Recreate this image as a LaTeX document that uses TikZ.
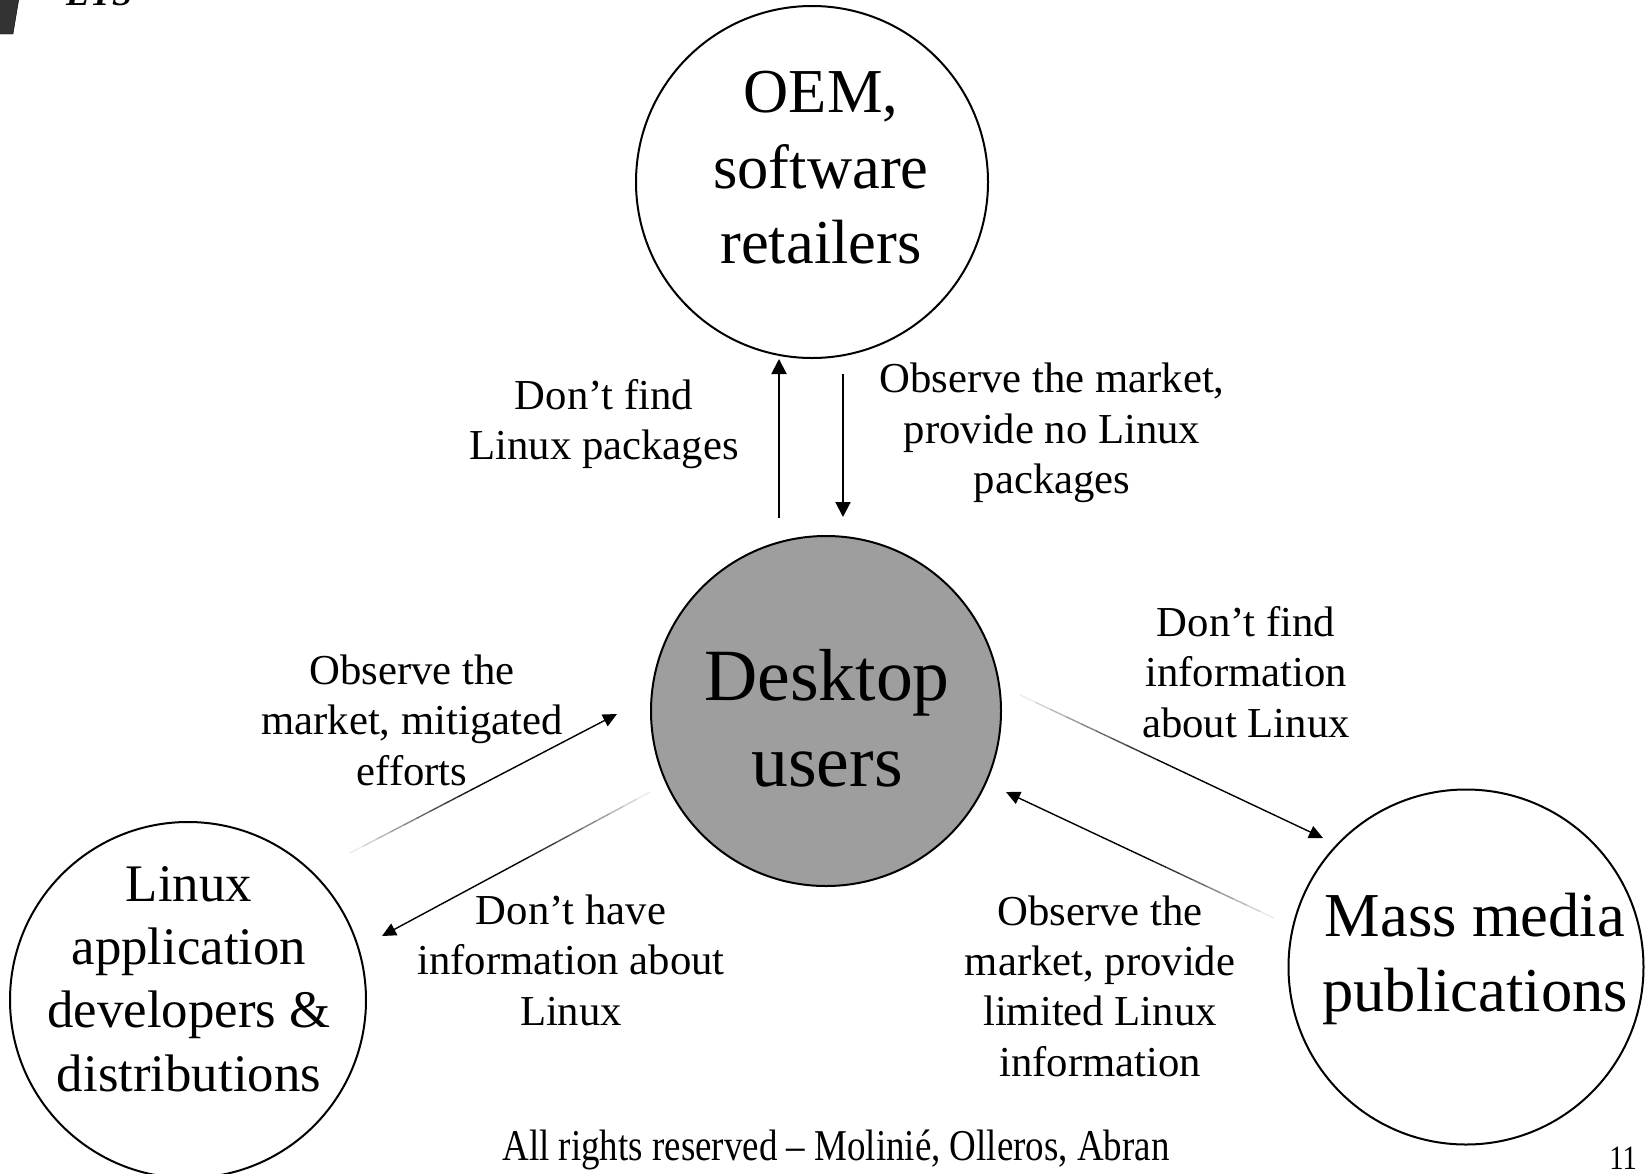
\documentclass[tikz,border=0pt]{standalone}
\usepackage{fontspec}
\setmainfont{Liberation Serif}
\usepackage{graphicx}
\usetikzlibrary{arrows.meta, calc}

\begin{document}
\begin{tikzpicture}[x=1pt, y=-1pt,
	bubble/.style={circle, draw, line width=2pt, inner sep=0pt},
	bigtext/.style={align=center, font=\fontsize{62.5}{75.6}\selectfont},
	labeltext/.style={align=center, font=\fontsize{42.7}{50.4}\selectfont},
	flow/.style={line width=1.4pt, -{Triangle[length=14pt,width=13pt]}},
	vflow/.style={line width=2pt, -{Triangle[length=15pt,width=15pt]}}]
	\useasboundingbox (0,0) rectangle (1646,1173);
	% logo in the corner
	\filldraw[fill=black!80, draw=black] (-6,-2) -- (19,-2) -- (13,34) -- (-6,34) -- cycle;
	\node[anchor=base west, inner sep=0pt] (logo) at (66,5) {\fontsize{36}{40}\selectfont\bfseries\itshape ETS};
	% the four actors
	\node[bubble, minimum size=352pt] (oem) at (812,182) {};
	\node[bubble, minimum size=350pt, fill=black!38] (desk) at (826,711) {};
	\node[bubble, minimum size=356pt] (dev) at (188,1000) {};
	\node[bubble, minimum size=355pt] (media) at (1466,967) {};
	\node[bigtext] (oemtxt) at (821,168) {OEM,\\software\\retailers};
	\node[align=center, font=\fontsize{73.7}{86}\selectfont] (desktxt) at (827,718) {Desktop\\users};
	\node[align=center, font=\fontsize{52.8}{63.3}\selectfont] (devtxt) at (189,979) {Linux\\application\\developers \&\\distributions};
	\node[bigtext] (mediatxt) at (1475,959) {Mass media\\publications};
	% labels of the flows
	\node[labeltext] (findpk) at (604,424) {Don’t find\\Linux packages};
	\node[labeltext] (nopk) at (1052,433) {Observe the market,\\provide no Linux\\packages};
	\node[labeltext] (mitig) at (412,720) {Observe the\\market, mitigated\\efforts};
	\node[labeltext] (findinfo) at (1246,672) {Don’t find\\information\\about Linux};
	\node[labeltext] (noinfo) at (571,960) {Don’t have\\information about\\Linux};
	\node[labeltext] (limited) at (1100,986) {Observe the\\market, provide\\limited Linux\\information};
	% arrows
	\coordinate (upS) at (779,518);
	\coordinate (upE) at (779,359);
	\coordinate (dnS) at (843,374);
	\coordinate (dnE) at (843,517);
	\coordinate (mitS) at (350,853);
	\coordinate (mitE) at (617,714);
	\coordinate (havS) at (650,792);
	\coordinate (havE) at (382,936);
	\coordinate (infS) at (1020,695);
	\coordinate (infE) at (1323,838);
	\coordinate (limS) at (1274,918);
	\coordinate (limE) at (1006,792);
	\draw[vflow] (upS) -- (upE);
	\draw[vflow] (dnS) -- (dnE);
	\foreach \s/\e in {mitS/mitE, havS/havE, infS/infE, limS/limE} {
		\foreach \i in {0,...,9} {
			\pgfmathsetmacro\segA{\i*0.05}
			\pgfmathsetmacro\segB{\i*0.05+0.05}
			\pgfmathsetmacro\tone{8+10*\i}
			\draw[line width=1.4pt, black!\tone] ($(\s)!\segA!(\e)$) -- ($(\s)!\segB!(\e)$);
		}
		\draw[flow] ($(\s)!0.5!(\e)$) -- (\e);
	}
	% footer
	\node[anchor=base, inner sep=0pt] (rights) at (836,1160) {\fontsize{44}{50}\selectfont\scalebox{0.84}[1]{All rights reserved – Molinié, Olleros, Abran}};
	\node[anchor=base east, inner sep=0pt] (page) at (1637,1169) {\fontsize{34}{40}\selectfont\scalebox{0.84}[1]{11}};
\end{tikzpicture}
\end{document}
